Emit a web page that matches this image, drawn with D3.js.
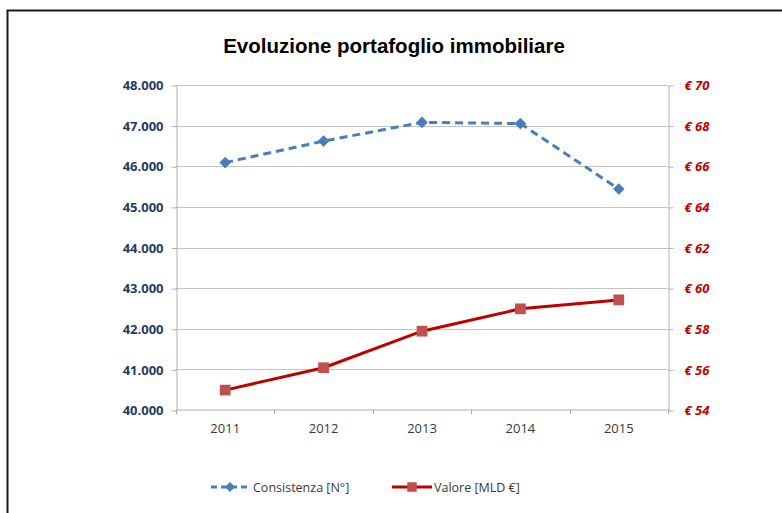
<!DOCTYPE html>
<html>
<head>
<meta charset="utf-8">
<script src="https://cdn.jsdelivr.net/npm/d3@7"></script>
<style>
  body { margin: 0; background: #fff; }
  svg { display: block; }
</style>
</head>
<body>
<div id="chart"></div>
<script>
// values
const years = ['2011', '2012', '2013', '2014', '2015'];
const consistenza = [46090, 46620, 47080, 47050, 45440];
const valore = [54.98, 56.08, 57.88, 58.98, 59.42];
const leftTicks = [40000, 41000, 42000, 43000, 44000, 45000, 46000, 47000, 48000];
const rightTicks = [54, 56, 58, 60, 62, 64, 66, 68, 70];
const seriesNames = ['Consistenza [N°]', 'Valore [MLD €]'];

const width = 782, height = 513;
const plot = { left: 176, right: 668, top: 85, bottom: 410 };

const svg = d3.select('#chart').append('svg')
    .attr('width', width)
    .attr('height', height);

// outer frame (cut at right/bottom)
svg.append('path')
    .attr('d', 'M7.5,' + (height + 5) + 'V10.5H' + (width + 5))
    .attr('fill', 'none')
    .attr('stroke', '#1a1a1a')
    .attr('stroke-width', 2);

svg.append('text')
    .attr('x', 394)
    .attr('y', 53)
    .attr('text-anchor', 'middle')
    .attr('font-family', 'Liberation Sans, Arial, sans-serif')
    .attr('font-weight', 'bold')
    .attr('font-size', 20.5)
    .attr('fill', '#000')
    .text('Evoluzione portafoglio immobiliare');

const x = d3.scaleBand().domain(years).range([plot.left, plot.right]);
const yL = d3.scaleLinear().domain([40000, 48000]).range([plot.bottom, plot.top]);
const yR = d3.scaleLinear().domain([54, 70]).range([plot.bottom, plot.top]);

// gridlines
svg.append('g')
    .selectAll('line')
    .data(leftTicks.slice(1))
  .enter().append('line')
    .attr('x1', plot.left)
    .attr('x2', plot.right)
    .attr('y1', d => Math.round(yL(d)) + 0.5)
    .attr('y2', d => Math.round(yL(d)) + 0.5)
    .attr('stroke', '#c4c4c4')
    .attr('stroke-width', 1);

// left axis
const axL = svg.append('g')
    .attr('transform', 'translate(' + (plot.left + 0.5) + ',0.5)')
    .call(d3.axisLeft(yL).tickValues(leftTicks).tickSize(5).tickSizeOuter(0)
      .tickFormat(d => (d / 1000).toFixed(3)));
axL.select('.domain').attr('stroke', '#b0b0b0');
axL.selectAll('.tick line').attr('stroke', '#b0b0b0');
axL.selectAll('.tick text')
    .attr('x', -13)
    .attr('font-family', 'Open Sans, Liberation Sans, sans-serif')
    .attr('font-weight', 'bold')
    .attr('font-size', 13)
    .attr('fill', '#1f3b63');

// right axis
const axR = svg.append('g')
    .attr('transform', 'translate(' + (plot.right + 0.5) + ',0.5)')
    .call(d3.axisRight(yR).tickValues(rightTicks).tickSize(5).tickSizeOuter(0)
      .tickFormat(d => '€ ' + d));
axR.select('.domain').attr('stroke', '#b0b0b0');
axR.selectAll('.tick line').attr('stroke', '#b0b0b0');
axR.selectAll('.tick text')
    .attr('x', 16)
    .attr('font-family', 'Open Sans, Liberation Sans, sans-serif')
    .attr('font-weight', 'bold')
    .attr('font-style', 'italic')
    .attr('font-size', 13)
    .attr('fill', '#c00000');

// x axis
const axX = svg.append('g')
    .attr('transform', 'translate(0,' + (plot.bottom - 0.5) + ')')
    .call(d3.axisBottom(x).tickSize(0).tickSizeOuter(0));
axX.select('.domain').attr('stroke', '#b0b0b0');
axX.selectAll('.tick text')
    .attr('y', 14)
    .attr('font-family', 'Open Sans, Liberation Sans, sans-serif')
    .attr('font-size', 13)
    .attr('fill', '#3a3a3a');
axX.selectAll('.sep')
    .data(years.concat(['end']))
  .enter().append('line')
    .attr('class', 'sep')
    .attr('x1', (d, i) => Math.round(plot.left + i * x.bandwidth()) + 0.5)
    .attr('x2', (d, i) => Math.round(plot.left + i * x.bandwidth()) + 0.5)
    .attr('y1', 0)
    .attr('y2', 5)
    .attr('stroke', '#b0b0b0');

const cx = d => x(d) + x.bandwidth() / 2;
const blue = '#4a7ebb', red = '#c00000', redMark = '#c0504d';

// series lines
svg.append('path')
    .datum(consistenza)
    .attr('fill', 'none')
    .attr('stroke', blue)
    .attr('stroke-width', 3)
    .attr('stroke-dasharray', '8,5')
    .attr('d', d3.line().x((d, i) => cx(years[i])).y(d => yL(d)));

svg.append('path')
    .datum(valore)
    .attr('fill', 'none')
    .attr('stroke', red)
    .attr('stroke-width', 3)
    .attr('d', d3.line().x((d, i) => cx(years[i])).y(d => yR(d)));

svg.append('g').selectAll('path')
    .data(consistenza)
  .enter().append('path')
    .attr('transform', (d, i) => 'translate(' + cx(years[i]) + ',' + yL(d) + ') rotate(45)')
    .attr('d', d3.symbol().type(d3.symbolSquare).size(68))
    .attr('fill', blue);

svg.append('g').selectAll('path')
    .data(valore)
  .enter().append('path')
    .attr('transform', (d, i) => 'translate(' + cx(years[i]) + ',' + yR(d) + ')')
    .attr('d', d3.symbol().type(d3.symbolSquare).size(115))
    .attr('fill', redMark);

// legend
const legY = 487;
const leg = svg.append('g');
leg.append('line')
    .attr('x1', 211).attr('x2', 250).attr('y1', legY).attr('y2', legY)
    .attr('stroke', blue).attr('stroke-width', 3).attr('stroke-dasharray', '6,4');
leg.append('path')
    .attr('transform', 'translate(230,' + legY + ') rotate(45)')
    .attr('d', d3.symbol().type(d3.symbolSquare).size(50))
    .attr('fill', blue);
leg.append('line')
    .attr('x1', 392).attr('x2', 432).attr('y1', legY).attr('y2', legY)
    .attr('stroke', red).attr('stroke-width', 3);
leg.append('path')
    .attr('transform', 'translate(412,' + legY + ')')
    .attr('d', d3.symbol().type(d3.symbolSquare).size(90))
    .attr('fill', redMark);
leg.selectAll('text')
    .data(seriesNames)
  .enter().append('text')
    .attr('x', (d, i) => i ? 434 : 253)
    .attr('y', legY + 4.5)
    .attr('font-family', 'Open Sans, Liberation Sans, sans-serif')
    .attr('font-size', 12.5)
    .attr('fill', '#3a3a3a')
    .text(d => d);
</script>
</body>
</html>
